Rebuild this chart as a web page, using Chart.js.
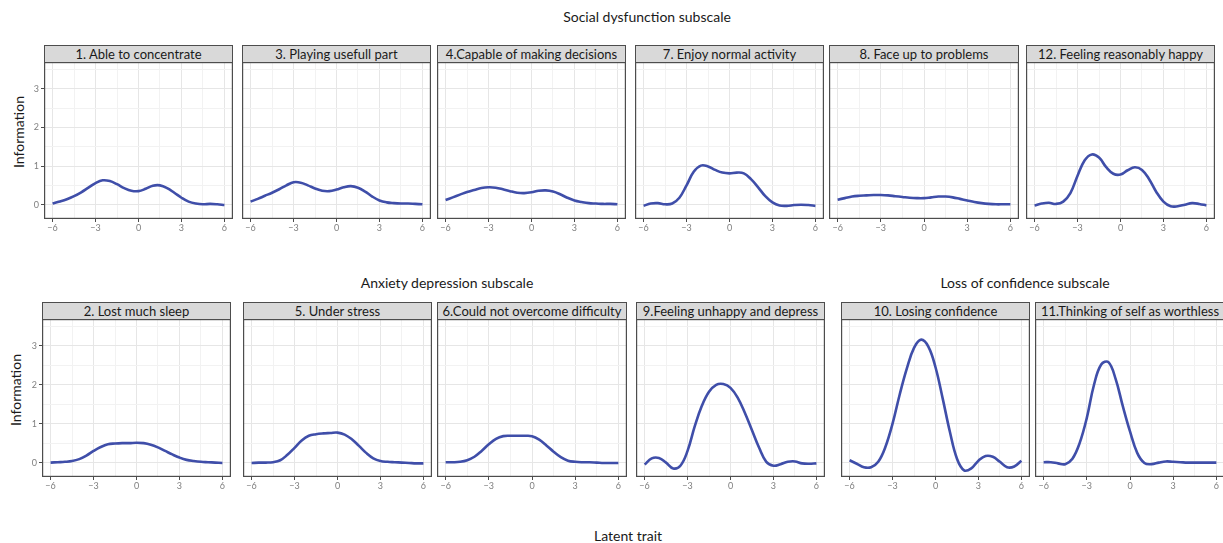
<!DOCTYPE html>
<html>
<head>
<meta charset="utf-8">
<script src="https://cdn.jsdelivr.net/npm/chart.js@4.4.1/dist/chart.umd.min.js"></script>
<style>
body{margin:0;background:#fff;font-family:Lato,'Open Sans',sans-serif;}
#wrap{position:relative;width:1223px;height:543px;overflow:hidden;background:#fff;}
.strip{position:absolute;box-sizing:border-box;border:1px solid #4d4d4d;background:#d9d9d9;color:#1a1a1a;font-size:13px;text-align:center;white-space:nowrap;overflow:hidden;}
.lbl{position:absolute;color:#1a1a1a;font-size:14px;white-space:nowrap;transform:translate(-50%,-50%);}
.ylab{position:absolute;color:#1a1a1a;font-size:14px;white-space:nowrap;transform:translate(-50%,-50%) rotate(-90deg);}
canvas{position:absolute;}
</style>
</head>
<body>
<div id="wrap"></div>
<script>
// latent trait grid
const theta = [-6,-5.5,-5,-4.5,-4,-3.5,-3,-2.5,-2,-1.5,-1,-0.5,0,0.5,1,1.5,2,2.5,3,3.5,4,4.5,5,5.5,6];
const xTicks = [-6,-4.5,-3,-1.5,0,1.5,3,4.5,6];
const yTicks = [0,0.5,1,1.5,2,2.5,3,3.5];

// item information curves
const able      = [0.03,0.08,0.14,0.22,0.32,0.44,0.56,0.63,0.61,0.53,0.43,0.36,0.35,0.41,0.49,0.50,0.43,0.31,0.18,0.08,0.03,0.01,0.02,0.01,-0.01];
const playing   = [0.08,0.15,0.23,0.31,0.40,0.50,0.58,0.57,0.50,0.42,0.36,0.35,0.39,0.45,0.48,0.44,0.34,0.21,0.11,0.06,0.04,0.03,0.03,0.02,0.01];
const capable   = [0.12,0.19,0.26,0.33,0.38,0.43,0.45,0.44,0.40,0.35,0.31,0.30,0.32,0.36,0.37,0.34,0.27,0.18,0.11,0.07,0.04,0.03,0.02,0.02,0.01];
const enjoy     = [-0.03,0.03,0.04,0.01,0.03,0.18,0.50,0.85,1.01,0.99,0.90,0.83,0.81,0.83,0.81,0.66,0.45,0.22,0.06,-0.02,-0.03,-0.01,0.00,-0.01,-0.03];
const faceUp    = [0.13,0.17,0.21,0.23,0.24,0.25,0.25,0.24,0.22,0.20,0.18,0.17,0.17,0.19,0.21,0.21,0.19,0.15,0.11,0.07,0.04,0.02,0.01,0.01,0.01];
const happy     = [-0.02,0.03,0.05,0.02,0.08,0.30,0.75,1.15,1.30,1.22,0.97,0.80,0.78,0.89,0.97,0.90,0.66,0.33,0.08,-0.04,-0.04,0.00,0.04,0.02,-0.02];
const sleep     = [0.00,0.01,0.02,0.04,0.09,0.18,0.30,0.40,0.47,0.49,0.50,0.50,0.51,0.50,0.46,0.39,0.30,0.21,0.13,0.07,0.04,0.02,0.01,0.00,-0.01];
const stress    = [-0.01,0.00,0.00,0.01,0.06,0.20,0.38,0.57,0.69,0.73,0.75,0.76,0.77,0.72,0.60,0.43,0.25,0.11,0.04,0.02,0.01,0.00,-0.01,-0.02,-0.02];
const overcome  = [0.01,0.01,0.02,0.06,0.15,0.30,0.47,0.61,0.68,0.69,0.69,0.69,0.68,0.59,0.44,0.28,0.14,0.05,0.02,0.01,0.01,0.00,-0.01,-0.01,-0.01];
const unhappy   = [-0.05,0.11,0.12,0.00,-0.15,-0.08,0.30,0.93,1.46,1.82,2.00,2.02,1.92,1.67,1.28,0.83,0.38,0.02,-0.08,-0.04,0.02,0.03,-0.02,-0.03,-0.02];
const confidence= [0.06,-0.03,-0.12,-0.12,0.02,0.40,1.00,1.75,2.42,2.95,3.16,2.98,2.45,1.65,0.80,0.10,-0.20,-0.15,0.05,0.17,0.15,0.02,-0.12,-0.10,0.05];
const worthless = [0.01,0.01,-0.02,-0.04,0.10,0.50,1.15,2.00,2.52,2.58,2.15,1.45,0.80,0.25,-0.01,-0.04,0.00,0.03,0.02,0.01,0.00,0.00,0.00,0.00,0.00];

const titles = ['1. Able to concentrate','3. Playing usefull part','4.Capable of making decisions','7. Enjoy normal activity','8. Face up to problems','12. Feeling reasonably happy',
  '2. Lost much sleep','5. Under stress','6.Could not overcome difficulty','9.Feeling unhappy and depress','10. Losing confidence','11.Thinking of self as worthless'];
const series = [able,playing,capable,enjoy,faceUp,happy,sleep,stress,overcome,unhappy,confidence,worthless];

// panel placement
const rows = [{strip:45,top:62,bottom:219},{strip:302,top:319,bottom:477}];
const cols = [
  [[44,233],[242,431],[437,626],[635,824],[829,1019],[1026,1215]],
  [[42,231],[243,432],[437,627],[636,825],[841,1030],[1035,1225]]
];

const FONT = 'Lato, "Open Sans", sans-serif';
const wrap = document.getElementById('wrap');

function label(cls, text, x, y){
  const d=document.createElement('div'); d.className=cls; d.textContent=text;
  d.style.left=x+'px'; d.style.top=y+'px'; wrap.appendChild(d);
}
label('lbl','Social dysfunction subscale',647,16);
label('lbl','Anxiety depression subscale',447,282);
label('lbl','Loss of confidence subscale',1025,282);
label('lbl','Latent trait',628,535);
label('ylab','Information',18,132);
label('ylab','Information',15,390);

const frame = {id:'frame', afterDraw(c){
  const a=c.chartArea, g=c.ctx; g.save(); g.strokeStyle='#4d4d4d'; g.lineWidth=1.2;
  g.strokeRect(a.left+0.6,a.top+0.6,a.right-a.left-1.2,a.bottom-a.top-1.2); g.restore();
}};
const fmt = v => v<0 ? '\u2212'+Math.abs(v) : String(v);
const noPad = sc => { sc.paddingTop=0; sc.paddingBottom=0; sc.paddingLeft=0; sc.paddingRight=0; };

series.forEach((vals,i)=>{
  const r = Math.floor(i/6), k = i%6, row = rows[r], [L,R] = cols[r][k];
  const first = k===0, yw = first?26:0, xh = 16;
  const s=document.createElement('div'); s.className='strip'; s.textContent=titles[i];
  s.style.left=L+'px'; s.style.top=row.strip+'px'; s.style.width=(R-L)+'px';
  const sh=row.top-row.strip+1; s.style.height=sh+'px'; s.style.lineHeight=(sh-2)+'px';
  wrap.appendChild(s);

  const cv=document.createElement('canvas');
  const w=R-L+yw, h=row.bottom-row.top+xh;
  cv.width=w; cv.height=h; cv.style.width=w+'px'; cv.style.height=h+'px';
  cv.style.left=(L-yw)+'px'; cv.style.top=row.top+'px';
  wrap.appendChild(cv);

  new Chart(cv,{
    type:'line',
    data:{datasets:[{data:theta.map((t,j)=>({x:t,y:vals[j]})),borderColor:'#3f4ea9',borderWidth:2.6,pointRadius:0,tension:0.4,fill:false}]},
    options:{
      responsive:false, animation:false,
      layout:{padding:0},
      plugins:{legend:{display:false},tooltip:{enabled:false}},
      scales:{
        x:{type:'linear',min:-6.6,max:6.6,
          afterBuildTicks:sc=>{sc.ticks=xTicks.map(v=>({value:v}));},
          afterFit:sc=>{sc.height=xh; noPad(sc);},
          border:{display:false},
          grid:{color:c=>c.tick && c.tick.value%3===0?'#e6e6e6':'#f2f2f2',lineWidth:1,tickLength:3,
                tickColor:c=>c.tick && c.tick.value%3===0?'#4d4d4d':'rgba(0,0,0,0)'},
          ticks:{autoSkip:false,maxRotation:0,padding:1,color:'#7f7f7f',font:{family:FONT,size:9},
                 callback:v=>v%3===0?fmt(v):''}},
        y:{type:'linear',min:-0.37,max:3.69,
          afterBuildTicks:sc=>{sc.ticks=yTicks.map(v=>({value:v}));},
          afterFit:sc=>{sc.width=yw; noPad(sc);},
          border:{display:false},
          grid:{color:c=>c.tick && c.tick.value%1===0?'#e6e6e6':'#f2f2f2',lineWidth:1,drawTicks:first,tickLength:3,
                tickColor:c=>c.tick && c.tick.value%1===0?'#4d4d4d':'rgba(0,0,0,0)'},
          ticks:{display:first,padding:2,color:'#7f7f7f',font:{family:FONT,size:9},
                 callback:v=>v%1===0?fmt(v):''}}
      }
    },
    plugins:[frame]
  });
});
</script>
</body>
</html>
